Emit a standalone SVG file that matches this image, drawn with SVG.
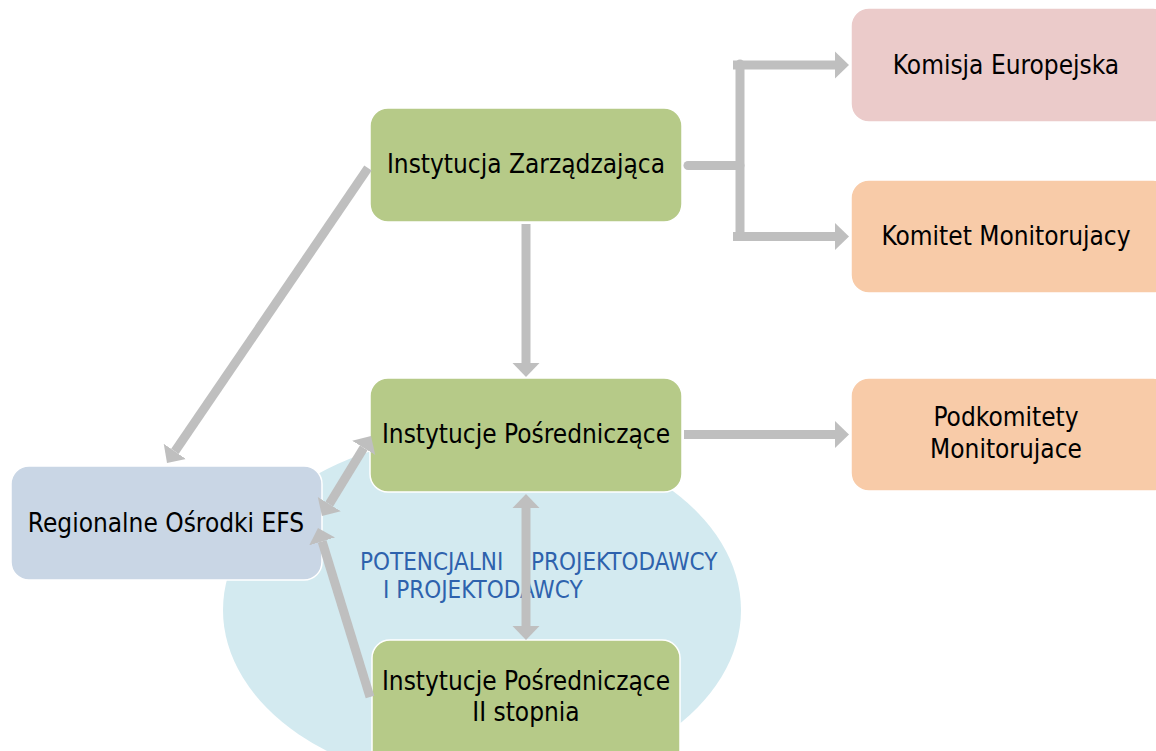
<svg xmlns="http://www.w3.org/2000/svg" width="1156" height="751" viewBox="0 0 1156 751">
<style>
.box{stroke:#ffffff;stroke-width:1.5}
.green{fill:#b6ca88}
.pink{fill:#ebcbca}
.peach{fill:#f8cba8}
.blue{fill:#c9d6e5}
.lbl{font-family:"DejaVu Sans Condensed","DejaVu Sans",sans-serif;font-size:26px;fill:#000;text-anchor:middle}
.note{font-family:"DejaVu Sans Condensed","DejaVu Sans",sans-serif;font-size:24px;fill:#2e62ad}
.conn{stroke:#bfbfbf;stroke-width:9;fill:none}
</style>
<defs>
<marker id="ah" markerUnits="userSpaceOnUse" markerWidth="15" markerHeight="28" refX="0" refY="13.5" orient="auto-start-reverse" viewBox="0 0 15 27">
<path d="M0,0 L14,13.5 L0,27 z" fill="#bfbfbf"/>
</marker>
</defs>
<rect width="1156" height="751" fill="#ffffff"/>
<g id="background">
<ellipse cx="482" cy="610" rx="259" ry="176" fill="#d3eaf0"/>
<text class="note" x="360" y="570">POTENCJALNI</text>
<text class="note" x="531" y="570">PROJEKTODAWCY</text>
<text class="note" x="383" y="598">I PROJEKTODAWCY</text>
</g>
<g id="node-komisja">
<rect class="box pink" x="851" y="8" width="320" height="114" rx="18"/>
<text class="lbl" x="1006" y="74">Komisja Europejska</text>
</g>
<g id="node-komitet">
<rect class="box peach" x="851" y="180" width="320" height="113" rx="18"/>
<text class="lbl" x="1006" y="245">Komitet Monitorujacy</text>
</g>
<g id="node-podkomitety">
<rect class="box peach" x="851" y="378" width="320" height="113" rx="18"/>
<text class="lbl" x="1006" y="426">Podkomitety</text>
<text class="lbl" x="1006" y="458">Monitorujace</text>
</g>
<g id="node-iz">
<rect class="box green" x="370" y="108" width="312" height="114" rx="18"/>
<text class="lbl" x="526" y="173">Instytucja Zarządzająca</text>
</g>
<g id="node-ip">
<rect class="box green" x="370" y="378" width="312" height="114" rx="18"/>
<text class="lbl" x="526" y="443">Instytucje Pośredniczące</text>
</g>
<g id="node-ip2">
<rect class="box green" x="372" y="640" width="308" height="130" rx="18"/>
<text class="lbl" x="526" y="690">Instytucje Pośredniczące</text>
<text class="lbl" x="526" y="721">II stopnia</text>
</g>
<g id="node-regionalne">
<rect class="box blue" x="11" y="466" width="311" height="114" rx="18"/>
<text class="lbl" x="166" y="532">Regionalne Ośrodki EFS</text>
</g>
<g id="connectors">
<line class="conn" x1="526" y1="224" x2="526" y2="363" marker-end="url(#ah)"/>
<line class="conn" x1="688" y1="165.5" x2="740" y2="165.5" stroke-linecap="round"/>
<line class="conn" x1="740" y1="64" x2="740" y2="236" stroke-linecap="round"/>
<line class="conn" x1="733" y1="65" x2="835" y2="65" marker-end="url(#ah)"/>
<line class="conn" x1="733" y1="236.5" x2="835" y2="236.5" marker-end="url(#ah)"/>
<line class="conn" x1="684" y1="434.5" x2="835" y2="434.5" marker-end="url(#ah)"/>
<line class="conn" x1="368" y1="168" x2="174.9" y2="451.4" marker-end="url(#ah)"/>
<line class="conn" x1="363.7" y1="447.9" x2="329.3" y2="504.1" marker-start="url(#ah)" marker-end="url(#ah)"/>
<line class="conn" x1="370" y1="697" x2="322.1" y2="541.4" marker-end="url(#ah)"/>
<line class="conn" x1="526" y1="508" x2="526" y2="626" marker-start="url(#ah)" marker-end="url(#ah)"/>
</g>
</svg>
